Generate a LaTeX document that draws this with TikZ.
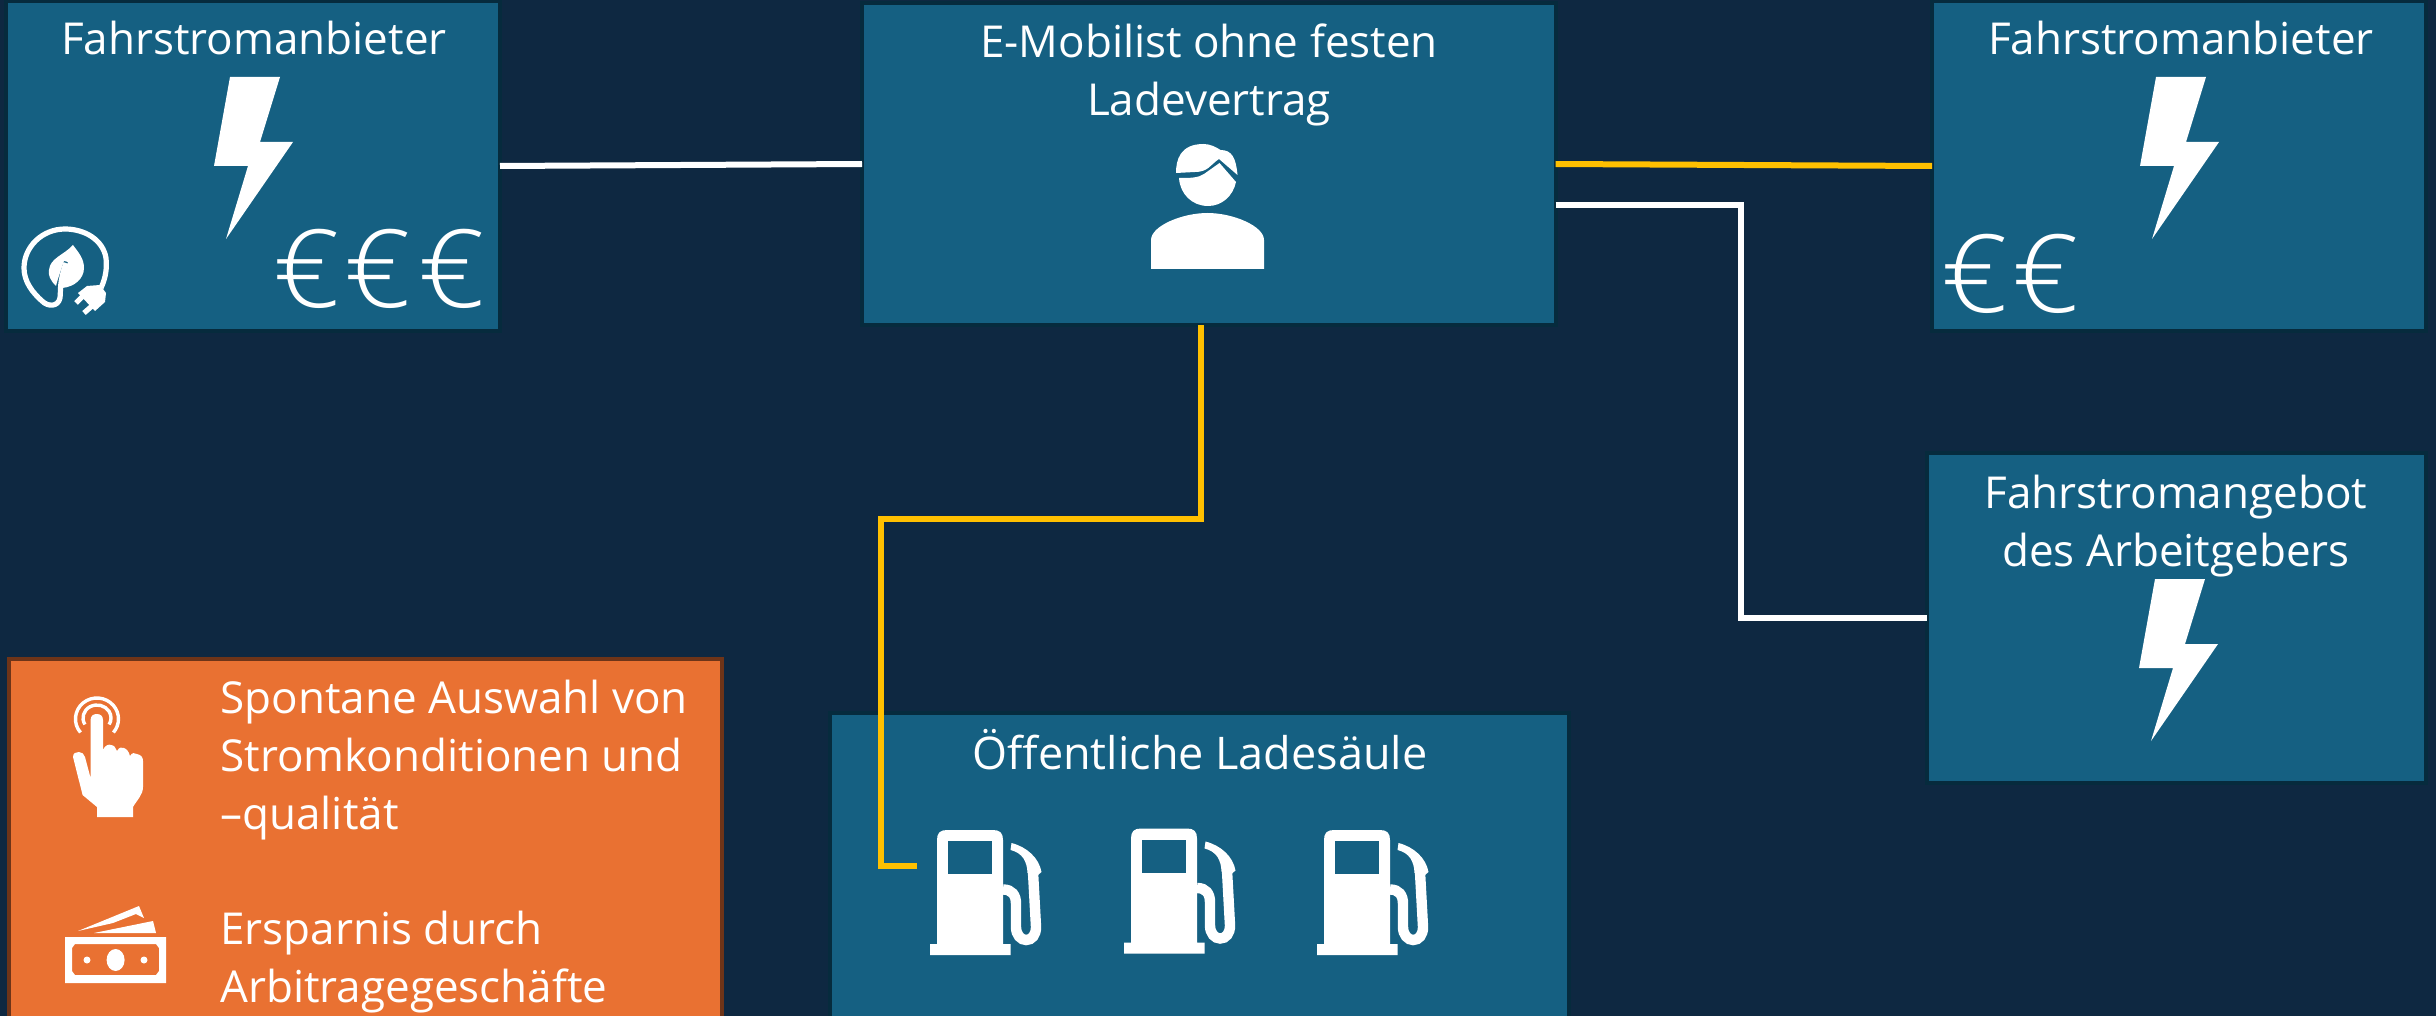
\documentclass[tikz,border=0pt]{standalone}
\usepackage{fontspec}
\setmainfont{Open Sans}
\newfontfamily\eurofont{Open Sans Light}
\usetikzlibrary{calc}
\definecolor{bgc}{HTML}{0E2841}
\definecolor{boxc}{HTML}{156082}
\definecolor{boxb}{HTML}{062B3D}
\definecolor{orc}{HTML}{E97132}
\definecolor{orb}{HTML}{6E3418}
\definecolor{yel}{HTML}{FFC000}
\tikzset{
  panel/.style={draw=boxb,fill=boxc,line width=2pt,inner sep=0pt,outer sep=0pt,anchor=north west,minimum width=#1},
  titel/.style={text=white,font=\fontsize{22}{29}\selectfont,inner sep=0pt,align=center},
  listtext/.style={text=white,font=\fontsize{22}{29}\selectfont,inner sep=0pt,align=left},
  euro/.style={text=white,font=\eurofont\fontsize{54}{54}\selectfont,inner sep=0pt,xscale=1.08},
  conn/.style={line width=3pt,line join=miter},
  icon/.style={fill=white,draw=none},
  pics/bolt/.style={code={
    \fill[white] (0,0) -- (50,0) -- (30,65) -- (63,65) -- (-4,162) -- (18,89) -- (-16,89) -- cycle;
  }},
  pics/pump/.style={code={
    \fill[white] (0,114) -- (0,10) .. controls (0,3) and (3,0) .. (10,0) -- (56,0) .. controls (63,0) and (66,3) .. (66,10) -- (66,114) -- (73.5,114) -- (73.5,125) -- (-7,125) -- (-7,114) -- cycle;
    \fill[boxc] (11,11) rectangle (55,44);
    \draw[white,line width=5.2pt,line cap=butt] (66,59.5) .. controls (75,59.5) and (79,65) .. (79,74) -- (79,97) .. controls (79,105) and (84,110) .. (89,110) .. controls (95,110) and (99,105) .. (99,97) -- (96,42);
    \fill[white] (74.5,13) .. controls (90,17) and (102,28) .. (104.5,42) -- (101,45) -- (90.5,43) .. controls (90,32) and (86,23) .. (73.5,20) -- cycle;
  }}
}
\begin{document}
\begin{tikzpicture}[x=0.5pt,y=-0.5pt]
\useasboundingbox (0,0) rectangle (2436,1016);
\clip (0,0) rectangle (2436,1016);
\fill[bgc] (0,0) rectangle (2436,1016);

% panels
\node[panel=247pt,minimum height=165pt] (fr1) at (6,1) {};
\node[panel=346.75pt,minimum height=161pt] (mob) at (862,3) {};
\node[panel=247pt,minimum height=165pt] (fr2) at (1932,1) {};
\node[panel=249.5pt,minimum height=165pt] (arb) at (1927,453) {};
\node[panel=369.25pt,minimum height=200pt] (lade) at (830,713) {};
\node[panel=356.5pt,minimum height=200pt,draw=orb,fill=orc] (vort) at (8.5,658.5) {};

% connectors
\coordinate (p1) at (917,866);
\draw[conn,white] (fr1.east) -- (mob.west);
\draw[conn,yel] (mob.east) -- (fr2.west);
\draw[conn,white] ($(mob.east)+(0,41)$) -- ++(185.5,0) |- (arb.west);
\draw[conn,yel] ($(mob.south)+(-8,0)$) -- ++(0,194) -| (881,866) -- (p1);

% titles
\node[titel,anchor=base] (t1) at (254,55) {Fahrstromanbieter};
\node[titel,anchor=base] (t2) at (1209,116) {E-Mobilist ohne festen\\Ladevertrag};
\node[titel,anchor=base] (t3) at (2181,55) {Fahrstromanbieter};
\node[titel,anchor=base] (t4) at (2176,566) {Fahrstromangebot\\des Arbeitgebers};
\node[titel,anchor=base,font=\fontsize{22.5}{29}\selectfont] (t5) at (1200,769) {Öffentliche Ladesäule};

% list
\node[listtext,anchor=base west] (l1) at (220,829) {Spontane Auswahl von\\Stromkonditionen und\\–qualität};
\node[listtext,anchor=base west] (l2) at (220,1002) {Ersparnis durch\\Arbitragegeschäfte};

% euros
\node[euro,anchor=base] (e1) at (306.5,307) {€};
\node[euro,anchor=base] (e2) at (378,307) {€};
\node[euro,anchor=base] (e3) at (451.5,307) {€};
\node[euro,anchor=base] (e4) at (1975,313) {€};
\node[euro,anchor=base] (e5) at (2045.5,313) {€};

% bolts
\pic at (230,77) {bolt};
\pic at (2156,77) {bolt};
\pic at (2155,579) {bolt};

% leaf / plug icon
\draw[white,line width=2.6pt,line cap=butt] (101,288) .. controls (106,277) and (107,268) .. (106,258)
  .. controls (103,240) and (85,229) .. (65,229)
  .. controls (42,229) and (24,247) .. (24,268)
  .. controls (24,282) and (33,293) .. (42,301)
  .. controls (48,307) and (58,307) .. (60,298)
  .. controls (61,290) and (59,283) .. (66,263);
\fill[white] (73,245) .. controls (78,252) and (84,258) .. (84,268) .. controls (84,279) and (74,287) .. (62,288)
  .. controls (63,278) and (65,270) .. (68,262) -- (64,261) .. controls (61,270) and (58,278) .. (56,286)
  .. controls (50,280) and (48,275) .. (49,270) .. controls (50,258) and (64,255) .. (73,245) -- cycle;
\fill[white] (78,293) -- (87,286) -- (100,285) -- (106,293) -- (105,302) -- (95,311) -- cycle;
\draw[white,line width=2.6pt] (83,296) -- (76,303);
\draw[white,line width=2.6pt] (92,306) -- (84,313);

% person
\fill[white] (1176,173) .. controls (1176,160) and (1180,144) .. (1203.5,144) .. controls (1210,144) and (1216,147) .. (1220.5,150) .. controls (1232,150) and (1236,158) .. (1237.5,175) -- (1219,159) .. controls (1210,165) and (1208,172) .. (1195,172) -- cycle;
\fill[white] (1179,178) .. controls (1190,178) and (1198,178) .. (1204,174) -- (1219.5,163) -- (1236,182) .. controls (1233,196) and (1222,206) .. (1208,206) .. controls (1192,206) and (1180,194) .. (1179,178) -- cycle;
\fill[white] (1151,269) -- (1151,240) .. controls (1151,226) and (1182,213) .. (1207.5,213) .. controls (1233,213) and (1264,226) .. (1264,240) -- (1264,269) -- cycle;

% pumps
\pic at (937,830) {pump};
\pic at (1131,828.5) {pump};
\pic at (1324,830) {pump};

% hand
\fill[white] (90.6,778) -- (90.6,720) .. controls (90.6,716) and (93,714) .. (96.8,714) .. controls (100.5,714) and (103,716) .. (103,720) -- (103,750)
  .. controls (105,745) and (109,744) .. (111,745) .. controls (114,745) and (116,748) .. (117,751)
  .. controls (119,747) and (122,747) .. (124,748) .. controls (127,749) and (129,752) .. (130,756)
  .. controls (132,752) and (135,753) .. (137,754) .. controls (141,755) and (143,757) .. (143,761)
  -- (143,787) .. controls (143,795) and (137,800) .. (133,807) -- (133,817) -- (97,817) -- (97,807) -- (82.6,795) -- (73,757)
  .. controls (73,753) and (76,752) .. (79,752) .. controls (82,752) and (84,754) .. (85,757) -- cycle;
\draw[white,line width=1.7pt] (80.5,732.5) arc[start angle=140,end angle=400,x radius=21.5,y radius=21];
\draw[white,line width=1.7pt] (84.9,724.5) arc[start angle=150,end angle=390,x radius=14,y radius=13];

% money
\fill[white,even odd rule] (65,937) rectangle (166,983)
  (75,944) -- (156,944) -- (159,948) -- (159,971) -- (156,975) -- (75,975) -- (72,971) -- (72,948) -- cycle;
\fill[white] (115.6,960) ellipse[x radius=9,y radius=11];
\fill[white] (87,960) circle[radius=3.5];
\fill[white] (144,960) circle[radius=3.5];
\fill[white] (78,931) -- (139,906) -- (144,918) -- (136,914) -- (113,923) -- cycle;
\fill[white] (94,933) -- (153,921) -- (156,933) -- cycle;
\end{tikzpicture}
\end{document}
